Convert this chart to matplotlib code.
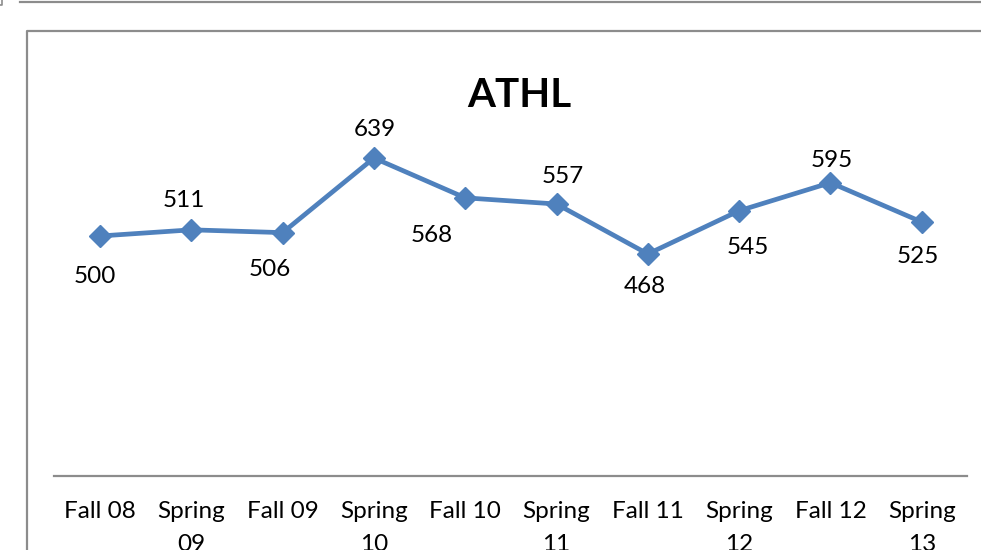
import matplotlib
matplotlib.use("Agg")
import matplotlib.pyplot as plt
from matplotlib.lines import Line2D

categories = ["Fall 08", "Spring\n09", "Fall 09", "Spring\n10", "Fall 10",
              "Spring\n11", "Fall 11", "Spring\n12", "Fall 12", "Spring\n13"]
values = [500, 511, 506, 639, 568, 557, 468, 545, 595, 525]
# label offsets (pixels, dx, dy of baseline relative to point; style only)
label_dx = [-5, -8, -13, 1, -34, 6, -3, 9, 1, -4]
label_dy = [-47, 23, -43, 22, -44, 21, -39, -43, 16, -41]

plt.rcParams['font.family'] = ['Lato', 'DejaVu Sans']

W, H = 981, 550
fig = plt.figure(figsize=(W / 100, H / 100), dpi=100)

# frames
gray = '#8c8c8c'
fig.add_artist(Line2D([20 / W, 1], [1 - 1.5 / H, 1 - 1.5 / H], color=gray, lw=1.6))
fig.add_artist(Line2D([0, 2 / W, 2 / W], [1 - 5 / H, 1 - 5 / H, 1], color=gray, lw=1.2))
fig.add_artist(Line2D([26.5 / W, 26.5 / W, 1], [0, 1 - 30.5 / H, 1 - 30.5 / H], color=gray, lw=1.6))

left, right = 54.4, 967.4
bottom_px, top_px = 476, 100
ax = fig.add_axes([left / W, 1 - bottom_px / H, (right - left) / W, (bottom_px - top_px) / H])
s = 78 / 139.0
ax.set_ylim(500 - (bottom_px - 236) / s, 500 + (236 - top_px) / s)
ax.set_xlim(-0.5, len(categories) - 0.5)

x = list(range(len(categories)))
ax.plot(x, values, color='#4F81BD', lw=3.4, marker='D', markersize=11.5,
        markerfacecolor='#4F81BD', markeredgecolor='#4F81BD', solid_joinstyle='miter', zorder=3)

for i, v in enumerate(values):
    ax.annotate(str(v), (i, v), xytext=(label_dx[i], label_dy[i]), textcoords='offset pixels',
                ha='center', va='baseline', fontsize=17.5, color='black')

for sp in ['top', 'left', 'right']:
    ax.spines[sp].set_visible(False)
ax.spines['bottom'].set_color(gray)
ax.spines['bottom'].set_linewidth(1.6)
ax.set_yticks([])
ax.set_xticks(x)
ax.set_xticklabels(categories, fontsize=17.5, linespacing=1.72)
ax.tick_params(axis='x', length=0, pad=18)

fig.text(519 / W, 1 - 107 / H, "ATHL", ha='center', va='baseline', fontsize=29,
         fontweight='bold', color='black')

fig.savefig('out.png', dpi=100)
